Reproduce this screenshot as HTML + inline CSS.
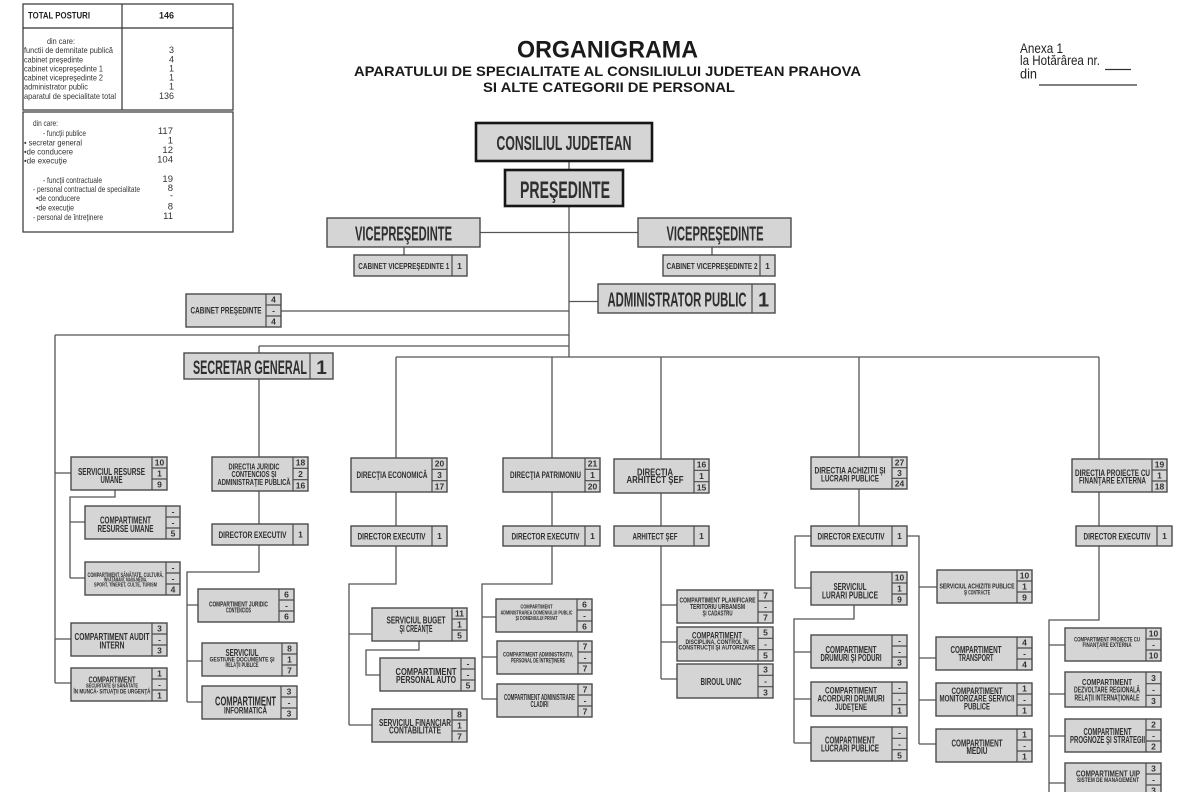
<!DOCTYPE html>
<html>
<head>
<meta charset="utf-8">
<style>
html,body{margin:0;padding:0;background:#fff;}
svg{display:block;}
.b{font-family:"Liberation Sans",Arial,sans-serif;font-weight:bold;fill:#2f2f2f;text-anchor:middle;}
.r{font-family:"Liberation Sans",Arial,sans-serif;fill:#333;}
.bx{fill:#d5d5d5;stroke:#4a4a4a;stroke-width:1.4;}
.bt{fill:#d5d5d5;stroke:#161616;stroke-width:2.6;}
.dv{stroke:#4a4a4a;stroke-width:1.2;}
.c{fill:none;stroke:#555;stroke-width:1.3;}
.v{font-family:"Liberation Sans",Arial,sans-serif;font-weight:bold;fill:#333;text-anchor:middle;font-size:8.5px;}
</style>
</head>
<body>
<svg width="1200" height="792" viewBox="0 0 1200 792" xmlns="http://www.w3.org/2000/svg">
<rect x="0" y="0" width="1200" height="792" fill="#fff"/>

<!-- Tables -->
<rect x="23" y="4" width="210" height="106" fill="#fff" stroke="#333" stroke-width="1.2"/>
<line x1="23" y1="28" x2="233" y2="28" stroke="#333" stroke-width="1.2"/>
<line x1="122" y1="4" x2="122" y2="110" stroke="#333" stroke-width="1.2"/>
<text class="r" x="28" y="18.5" font-size="9" font-weight="bold" textLength="62" lengthAdjust="spacingAndGlyphs" style="fill:#222">TOTAL POSTURI</text>
<text class="r" x="166.5" y="18.5" font-size="9" font-weight="bold" text-anchor="middle" style="fill:#222">146</text>
<g class="r" font-size="8.5">
<text x="47" y="44" textLength="28" lengthAdjust="spacingAndGlyphs">din care:</text>
<text x="24" y="53" textLength="89" lengthAdjust="spacingAndGlyphs">functii de demnitate publică</text>
<text x="24" y="62.5" textLength="59" lengthAdjust="spacingAndGlyphs">cabinet preşedinte</text>
<text x="24" y="71.5" textLength="79" lengthAdjust="spacingAndGlyphs">cabinet vicepreşedinte 1</text>
<text x="24" y="80.5" textLength="79" lengthAdjust="spacingAndGlyphs">cabinet vicepreşedinte 2</text>
<text x="24" y="89.5" textLength="64" lengthAdjust="spacingAndGlyphs">administrator public</text>
<text x="24" y="99" textLength="92" lengthAdjust="spacingAndGlyphs">aparatul de specialitate total</text>
</g>
<g class="r" font-size="9" text-anchor="end">
<text x="174" y="53">3</text>
<text x="174" y="62.5">4</text>
<text x="174" y="71.5">1</text>
<text x="174" y="80.5">1</text>
<text x="174" y="89.5">1</text>
<text x="174" y="99">136</text>
</g>

<rect x="23" y="112" width="210" height="120" fill="#fff" stroke="#333" stroke-width="1.2"/>
<g class="r" font-size="8.5">
<text x="33" y="126" textLength="25" lengthAdjust="spacingAndGlyphs">din care:</text>
<text x="43" y="136" textLength="43" lengthAdjust="spacingAndGlyphs">- funcţii publice</text>
<text x="24" y="145.5" textLength="58" lengthAdjust="spacingAndGlyphs">• secretar general</text>
<text x="24" y="154.5" textLength="49" lengthAdjust="spacingAndGlyphs">•de conducere</text>
<text x="24" y="163.5" textLength="43" lengthAdjust="spacingAndGlyphs">•de execuţie</text>
<text x="43" y="183" textLength="59" lengthAdjust="spacingAndGlyphs">- funcţii contractuale</text>
<text x="33" y="192" textLength="107" lengthAdjust="spacingAndGlyphs">- personal contractual de specialitate</text>
<text x="36" y="201" textLength="44" lengthAdjust="spacingAndGlyphs">•de conducere</text>
<text x="36" y="210.5" textLength="38" lengthAdjust="spacingAndGlyphs">•de execuţie</text>
<text x="33" y="220" textLength="70" lengthAdjust="spacingAndGlyphs">- personal de întreţinere</text>
</g>
<g class="r" font-size="9.5" text-anchor="end">
<text x="173" y="134">117</text>
<text x="173" y="143.5">1</text>
<text x="173" y="153">12</text>
<text x="173" y="162.5">104</text>
<text x="173" y="182">19</text>
<text x="173" y="191">8</text>
<text x="173" y="198.5">-</text>
<text x="173" y="209.5">8</text>
<text x="173" y="219">11</text>
</g>

<!-- Title -->
<text class="b" x="607.5" y="57.5" font-size="24" textLength="181" lengthAdjust="spacingAndGlyphs" style="fill:#1a1a1a">ORGANIGRAMA</text>
<text class="b" x="607.5" y="76" font-size="14" textLength="507" lengthAdjust="spacingAndGlyphs" style="fill:#1a1a1a">APARATULUI DE SPECIALITATE  AL CONSILIULUI JUDETEAN PRAHOVA</text>
<text class="b" x="609" y="92" font-size="14" textLength="252" lengthAdjust="spacingAndGlyphs" style="fill:#1a1a1a">SI ALTE CATEGORII DE  PERSONAL</text>

<!-- Anexa -->
<g class="r" font-size="14" style="fill:#222">
<text x="1020" y="53" textLength="43" lengthAdjust="spacingAndGlyphs">Anexa 1</text>
<text x="1020" y="65" textLength="80" lengthAdjust="spacingAndGlyphs">la Hotărârea nr.</text>
<text x="1020" y="78.5" textLength="17" lengthAdjust="spacingAndGlyphs">din</text>
</g>
<line x1="1105" y1="69.5" x2="1131" y2="69.5" stroke="#333" stroke-width="1.2"/>
<line x1="1039" y1="85" x2="1137" y2="85" stroke="#333" stroke-width="1.2"/>

<!-- Connectors -->
<path class="c" d="M569 161V170 M569 206V357 M480 232.5H638 M404 247V255 M712 247V255 M569 301.5H598 M281 311H569 M55 335H569 M55 335V683 M55 473H71 M55 639H71 M55 683H71 M259 346H569 M259 346V353 M259 379V457 M259 491V524 M259 545V572H187V702 M187 605H198 M187 661H202 M187 702H202 M115 490V497H70V578 M70 522H85 M70 578H85 M396 357H1099 M396 357V458 M552 357V458 M661 357V459 M859 357V457 M1099 357V459 M396 492V526 M396 546V584H349V725 M349 634H372 M349 725H372 M419 641V650H366V675H380 M552 492V526 M552 546V584H482V699 M482 617H496 M482 657H497 M482 699H497 M661 493V526 M661 546V679 M661 605H677 M661 642H677 M661 679H677 M859 489V526 M811 536H795V588H811 M907 536H919V744 M919 587H937 M919 658H936 M919 700H936 M919 744H936 M854 605V619H794V743 M794 652H811 M794 699H811 M794 743H811 M1099 492V526 M1099 546V620H1049V792 M1049 645H1065 M1049 694H1065 M1049 736H1065 M1049 783H1065"/>

<!-- Top boxes -->
<rect class="bt" x="476" y="123" width="176" height="38"/>
<text class="b" x="564" y="150" font-size="20" textLength="135" lengthAdjust="spacingAndGlyphs">CONSILIUL JUDETEAN</text>
<rect class="bt" x="505" y="170" width="118" height="36"/>
<text class="b" x="565" y="198" font-size="24" textLength="90" lengthAdjust="spacingAndGlyphs">PREŞEDINTE</text>

<rect class="bx" x="327" y="218" width="153" height="29"/>
<text class="b" x="403.5" y="240.5" font-size="20" textLength="97" lengthAdjust="spacingAndGlyphs">VICEPREŞEDINTE</text>
<rect class="bx" x="638" y="218" width="153" height="29"/>
<text class="b" x="715" y="240.5" font-size="20" textLength="97" lengthAdjust="spacingAndGlyphs">VICEPREŞEDINTE</text>

<rect class="bx" x="354" y="255" width="113" height="21"/>
<line class="dv" x1="452" y1="255" x2="452" y2="276"/>
<text class="b" x="403.8" y="269" font-size="8.5" textLength="91" lengthAdjust="spacingAndGlyphs">CABINET VICEPREŞEDINTE 1</text>
<text class="v" x="459.5" y="269">1</text>

<rect class="bx" x="663" y="255" width="112" height="21"/>
<line class="dv" x1="760" y1="255" x2="760" y2="276"/>
<text class="b" x="712" y="269" font-size="8.5" textLength="91" lengthAdjust="spacingAndGlyphs">CABINET VICEPREŞEDINTE 2</text>
<text class="v" x="767.5" y="269">1</text>

<rect class="bx" x="598" y="284" width="177" height="29"/>
<line class="dv" x1="752" y1="284" x2="752" y2="313"/>
<text class="b" x="677" y="306.5" font-size="20" textLength="139" lengthAdjust="spacingAndGlyphs">ADMINISTRATOR PUBLIC</text>
<text class="b" x="763.5" y="306.5" font-size="20">1</text>

<rect class="bx" x="186" y="294" width="95" height="33"/>
<path class="dv" d="M266 294V327 M266 305H281 M266 316H281"/>
<text class="b" x="226" y="313.5" font-size="9" textLength="71" lengthAdjust="spacingAndGlyphs">CABINET PREŞEDINTE</text>
<text class="v" x="273.5" y="302.5">4</text><text class="v" x="273.5" y="313.5">-</text><text class="v" x="273.5" y="324.5">4</text>

<rect class="bx" x="184" y="353" width="149" height="26"/>
<line class="dv" x1="310" y1="353" x2="310" y2="379"/>
<text class="b" x="250" y="374" font-size="19" textLength="114" lengthAdjust="spacingAndGlyphs">SECRETAR GENERAL</text>
<text class="b" x="321.5" y="374" font-size="19">1</text>

<!-- Left column -->
<rect class="bx" x="71" y="457" width="96" height="33"/>
<path class="dv" d="M152 457V490 M152 468H167 M152 479H167"/>
<text class="b" x="111.5" y="475" font-size="10" textLength="67" lengthAdjust="spacingAndGlyphs">SERVICIUL RESURSE</text>
<text class="b" x="111.5" y="483" font-size="10" textLength="22" lengthAdjust="spacingAndGlyphs">UMANE</text>
<text class="v" x="159.5" y="465.5">10</text><text class="v" x="159.5" y="476.5">1</text><text class="v" x="159.5" y="487.5">9</text>

<rect class="bx" x="85" y="506" width="95" height="33"/>
<path class="dv" d="M166 506V539 M166 517H180 M166 528H180"/>
<text class="b" x="125.5" y="523.5" font-size="10" textLength="51" lengthAdjust="spacingAndGlyphs">COMPARTIMENT</text>
<text class="b" x="125.5" y="532" font-size="10" textLength="56" lengthAdjust="spacingAndGlyphs">RESURSE UMANE</text>
<text class="v" x="173" y="514.5">-</text><text class="v" x="173" y="525.5">-</text><text class="v" x="173" y="536.5">5</text>

<rect class="bx" x="85" y="562" width="95" height="33"/>
<path class="dv" d="M166 562V595 M166 573H180 M166 584H180"/>
<text class="b" x="125.5" y="577" font-size="6.5" textLength="76" lengthAdjust="spacingAndGlyphs">COMPARTIMENT SĂNĂTATE, CULTURĂ,</text>
<text class="b" x="125.5" y="581.5" font-size="5" textLength="43" lengthAdjust="spacingAndGlyphs">ÎNVĂŢĂMÂNT, MASS-MEDIA,</text>
<text class="b" x="125.5" y="586.5" font-size="5" textLength="63" lengthAdjust="spacingAndGlyphs">SPORT, TINERET, CULTE, TURISM</text>
<text class="v" x="173" y="570.5">-</text><text class="v" x="173" y="581.5">-</text><text class="v" x="173" y="592.5">4</text>

<rect class="bx" x="71" y="623" width="96" height="33"/>
<path class="dv" d="M152 623V656 M152 634H167 M152 645H167"/>
<text class="b" x="112" y="640" font-size="10" textLength="75" lengthAdjust="spacingAndGlyphs">COMPARTIMENT  AUDIT</text>
<text class="b" x="112" y="648.5" font-size="10" textLength="25" lengthAdjust="spacingAndGlyphs">INTERN</text>
<text class="v" x="159.5" y="631.5">3</text><text class="v" x="159.5" y="642.5">-</text><text class="v" x="159.5" y="653.5">3</text>

<rect class="bx" x="71" y="668" width="96" height="33"/>
<path class="dv" d="M152 668V701 M152 679H167 M152 690H167"/>
<text class="b" x="112" y="682.5" font-size="8" textLength="47" lengthAdjust="spacingAndGlyphs">COMPARTIMENT</text>
<text class="b" x="112" y="687.5" font-size="5.5" textLength="52" lengthAdjust="spacingAndGlyphs">SECURITATE ŞI SĂNĂTATE</text>
<text class="b" x="112" y="693.5" font-size="6.5" textLength="77" lengthAdjust="spacingAndGlyphs">ÎN MUNCĂ- SITUAŢII DE URGENŢĂ</text>
<text class="v" x="159.5" y="676.5">1</text><text class="v" x="159.5" y="687.5">-</text><text class="v" x="159.5" y="698.5">1</text>

<!-- Juridic -->
<rect class="bx" x="212" y="457" width="96" height="34"/>
<path class="dv" d="M293 457V491 M293 468.3H308 M293 479.7H308"/>
<text class="b" x="254" y="469.5" font-size="8" textLength="51" lengthAdjust="spacingAndGlyphs">DIRECTIA JURIDIC</text>
<text class="b" x="254" y="477" font-size="8" textLength="45" lengthAdjust="spacingAndGlyphs">CONTENCIOS ŞI</text>
<text class="b" x="254" y="485" font-size="8" textLength="73" lengthAdjust="spacingAndGlyphs">ADMINISTRAŢIE  PUBLICĂ</text>
<text class="v" x="300.5" y="465.7">18</text><text class="v" x="300.5" y="477">2</text><text class="v" x="300.5" y="488.3">16</text>

<rect class="bx" x="212" y="524" width="96" height="21"/>
<line class="dv" x1="293" y1="524" x2="293" y2="545"/>
<text class="b" x="252.5" y="538" font-size="9" textLength="68" lengthAdjust="spacingAndGlyphs">DIRECTOR EXECUTIV</text>
<text class="v" x="300.5" y="537.5">1</text>

<rect class="bx" x="198" y="589" width="96" height="33"/>
<path class="dv" d="M279 589V622 M279 600H294 M279 611H294"/>
<text class="b" x="238.5" y="606.5" font-size="7" textLength="59" lengthAdjust="spacingAndGlyphs">COMPARTIMENT JURIDIC</text>
<text class="b" x="238.5" y="612.5" font-size="7" textLength="25" lengthAdjust="spacingAndGlyphs">CONTENCIOS</text>
<text class="v" x="286.5" y="597.5">6</text><text class="v" x="286.5" y="608.5">-</text><text class="v" x="286.5" y="619.5">6</text>

<rect class="bx" x="202" y="643" width="95" height="33"/>
<path class="dv" d="M282 643V676 M282 654H297 M282 665H297"/>
<text class="b" x="242" y="656" font-size="10" textLength="33" lengthAdjust="spacingAndGlyphs">SERVICIUL</text>
<text class="b" x="242" y="661.5" font-size="6.5" textLength="65" lengthAdjust="spacingAndGlyphs">GESTIUNE DOCUMENTE ŞI</text>
<text class="b" x="242" y="667" font-size="6.5" textLength="33" lengthAdjust="spacingAndGlyphs">RELAŢII PUBLICE</text>
<text class="v" x="289.5" y="651.5">8</text><text class="v" x="289.5" y="662.5">1</text><text class="v" x="289.5" y="673.5">7</text>

<rect class="bx" x="202" y="686" width="95" height="33"/>
<path class="dv" d="M281 686V719 M281 697H297 M281 708H297"/>
<text class="b" x="245.5" y="705.5" font-size="13" textLength="61" lengthAdjust="spacingAndGlyphs">COMPARTIMENT</text>
<text class="b" x="245.5" y="713.5" font-size="9" textLength="43" lengthAdjust="spacingAndGlyphs">INFORMATICĂ</text>
<text class="v" x="289" y="694.5">3</text><text class="v" x="289" y="705.5">-</text><text class="v" x="289" y="716.5">3</text>

<!-- Economica -->
<rect class="bx" x="351" y="458" width="96" height="34"/>
<path class="dv" d="M432 458V492 M432 469.3H447 M432 480.7H447"/>
<text class="b" x="392" y="478" font-size="9" textLength="71" lengthAdjust="spacingAndGlyphs">DIRECŢIA ECONOMICĂ</text>
<text class="v" x="439.5" y="466.7">20</text><text class="v" x="439.5" y="478">3</text><text class="v" x="439.5" y="489.3">17</text>

<rect class="bx" x="351" y="526" width="96" height="20"/>
<line class="dv" x1="432" y1="526" x2="432" y2="546"/>
<text class="b" x="391.5" y="539.5" font-size="9" textLength="68" lengthAdjust="spacingAndGlyphs">DIRECTOR EXECUTIV</text>
<text class="v" x="439.5" y="539">1</text>

<rect class="bx" x="372" y="608" width="95" height="33"/>
<path class="dv" d="M452 608V641 M452 619H467 M452 630H467"/>
<text class="b" x="416" y="623.5" font-size="10" textLength="59" lengthAdjust="spacingAndGlyphs">SERVICIUL BUGET</text>
<text class="b" x="416" y="632" font-size="10" textLength="33" lengthAdjust="spacingAndGlyphs">ŞI CREANŢE</text>
<text class="v" x="459.5" y="616.5">11</text><text class="v" x="459.5" y="627.5">1</text><text class="v" x="459.5" y="638.5">5</text>

<rect class="bx" x="380" y="658" width="95" height="33"/>
<path class="dv" d="M461 658V691 M461 669H475 M461 680H475"/>
<text class="b" x="426" y="675" font-size="10" textLength="61" lengthAdjust="spacingAndGlyphs">COMPARTIMENT</text>
<text class="b" x="426" y="683" font-size="10" textLength="60" lengthAdjust="spacingAndGlyphs">PERSONAL AUTO</text>
<text class="v" x="468" y="666.5">-</text><text class="v" x="468" y="677.5">-</text><text class="v" x="468" y="688.5">5</text>

<rect class="bx" x="372" y="709" width="95" height="33"/>
<path class="dv" d="M452 709V742 M452 720H467 M452 731H467"/>
<text class="b" x="415" y="726" font-size="10" textLength="72" lengthAdjust="spacingAndGlyphs">SERVICIUL  FINANCIAR</text>
<text class="b" x="415" y="733.5" font-size="10" textLength="52" lengthAdjust="spacingAndGlyphs">CONTABILITATE</text>
<text class="v" x="459.5" y="717.5">8</text><text class="v" x="459.5" y="728.5">1</text><text class="v" x="459.5" y="739.5">7</text>

<!-- Patrimoniu -->
<rect class="bx" x="503" y="458" width="97" height="34"/>
<path class="dv" d="M585 458V492 M585 469.3H600 M585 480.7H600"/>
<text class="b" x="545.5" y="478" font-size="9" textLength="71" lengthAdjust="spacingAndGlyphs">DIRECŢIA PATRIMONIU</text>
<text class="v" x="592.5" y="466.7">21</text><text class="v" x="592.5" y="478">1</text><text class="v" x="592.5" y="489.3">20</text>

<rect class="bx" x="503" y="526" width="97" height="20"/>
<line class="dv" x1="585" y1="526" x2="585" y2="546"/>
<text class="b" x="545.5" y="539.5" font-size="9" textLength="68" lengthAdjust="spacingAndGlyphs">DIRECTOR EXECUTIV</text>
<text class="v" x="592.5" y="539">1</text>

<rect class="bx" x="496" y="599" width="96" height="33"/>
<path class="dv" d="M577 599V632 M577 610H592 M577 621H592"/>
<text class="b" x="536.5" y="608.5" font-size="5.5" textLength="32" lengthAdjust="spacingAndGlyphs">COMPARTIMENT</text>
<text class="b" x="536.5" y="614.5" font-size="5.5" textLength="72" lengthAdjust="spacingAndGlyphs">ADMINISTRAREA DOMENIULUI PUBLIC</text>
<text class="b" x="536.5" y="620" font-size="5.5" textLength="42" lengthAdjust="spacingAndGlyphs">ŞI DOMENIULUI PRIVAT</text>
<text class="v" x="584.5" y="607.5">6</text><text class="v" x="584.5" y="618.5">-</text><text class="v" x="584.5" y="629.5">6</text>

<rect class="bx" x="497" y="641" width="95" height="33"/>
<path class="dv" d="M578 641V674 M578 652H592 M578 663H592"/>
<text class="b" x="538" y="656.5" font-size="6.5" textLength="70" lengthAdjust="spacingAndGlyphs">COMPARTIMENT ADMINISTRATIV,</text>
<text class="b" x="538" y="662.5" font-size="6.5" textLength="54" lengthAdjust="spacingAndGlyphs">PERSONAL DE ÎNTREŢINERE</text>
<text class="v" x="585" y="649.5">7</text><text class="v" x="585" y="660.5">-</text><text class="v" x="585" y="671.5">7</text>

<rect class="bx" x="497" y="684" width="95" height="33"/>
<path class="dv" d="M578 684V717 M578 695H592 M578 706H592"/>
<text class="b" x="539.5" y="700" font-size="8" textLength="71" lengthAdjust="spacingAndGlyphs">COMPARTIMENT ADMINISTRARE</text>
<text class="b" x="539.5" y="707" font-size="8" textLength="18" lengthAdjust="spacingAndGlyphs">CLADIRI</text>
<text class="v" x="585" y="692.5">7</text><text class="v" x="585" y="703.5">-</text><text class="v" x="585" y="714.5">7</text>

<!-- Arhitect -->
<rect class="bx" x="614" y="459" width="95" height="34"/>
<path class="dv" d="M694 459V493 M694 470.3H709 M694 481.7H709"/>
<text class="b" x="655" y="475.5" font-size="10" textLength="36" lengthAdjust="spacingAndGlyphs">DIRECTIA</text>
<text class="b" x="655" y="483" font-size="10" textLength="57" lengthAdjust="spacingAndGlyphs">ARHITECT ŞEF</text>
<text class="v" x="701.5" y="467.7">16</text><text class="v" x="701.5" y="479">1</text><text class="v" x="701.5" y="490.3">15</text>

<rect class="bx" x="614" y="526" width="95" height="20"/>
<line class="dv" x1="694" y1="526" x2="694" y2="546"/>
<text class="b" x="655" y="539.5" font-size="9" textLength="45" lengthAdjust="spacingAndGlyphs">ARHITECT ŞEF</text>
<text class="v" x="701.5" y="539">1</text>

<rect class="bx" x="677" y="590" width="96" height="33"/>
<path class="dv" d="M758 590V623 M758 601H773 M758 612H773"/>
<text class="b" x="717.5" y="602.5" font-size="7" textLength="76" lengthAdjust="spacingAndGlyphs">COMPARTIMENT PLANIFICARE</text>
<text class="b" x="717.5" y="609" font-size="7" textLength="55" lengthAdjust="spacingAndGlyphs">TERITORIU URBANISM</text>
<text class="b" x="717.5" y="615.5" font-size="7" textLength="30" lengthAdjust="spacingAndGlyphs">ŞI CADASTRU</text>
<text class="v" x="765.5" y="598.5">7</text><text class="v" x="765.5" y="609.5">-</text><text class="v" x="765.5" y="620.5">7</text>

<rect class="bx" x="677" y="627" width="96" height="34"/>
<path class="dv" d="M758 627V661 M758 638.3H773 M758 649.7H773"/>
<text class="b" x="717" y="638.5" font-size="9" textLength="50" lengthAdjust="spacingAndGlyphs">COMPARTIMENT</text>
<text class="b" x="717" y="644" font-size="6" textLength="63" lengthAdjust="spacingAndGlyphs">DISCIPLINA, CONTROL ÎN</text>
<text class="b" x="717" y="649.5" font-size="6.5" textLength="77" lengthAdjust="spacingAndGlyphs">CONSTRUCŢII ŞI AUTORIZARE</text>
<text class="v" x="765.5" y="635.7">5</text><text class="v" x="765.5" y="647">-</text><text class="v" x="765.5" y="658.3">5</text>

<rect class="bx" x="677" y="664" width="96" height="34"/>
<path class="dv" d="M758 664V698 M758 675.3H773 M758 686.7H773"/>
<text class="b" x="721" y="685" font-size="10" textLength="41" lengthAdjust="spacingAndGlyphs">BIROUL UNIC</text>
<text class="v" x="765.5" y="672.7">3</text><text class="v" x="765.5" y="684">-</text><text class="v" x="765.5" y="695.3">3</text>

<!-- Achizitii -->
<rect class="bx" x="811" y="457" width="96" height="32"/>
<path class="dv" d="M892 457V489 M892 467.7H907 M892 478.3H907"/>
<text class="b" x="850" y="473.5" font-size="9.5" textLength="71" lengthAdjust="spacingAndGlyphs">DIRECTIA  ACHIZITII ŞI</text>
<text class="b" x="850" y="481.5" font-size="9.5" textLength="58" lengthAdjust="spacingAndGlyphs">LUCRARI PUBLICE</text>
<text class="v" x="899.5" y="465.3">27</text><text class="v" x="899.5" y="476">3</text><text class="v" x="899.5" y="486.7">24</text>

<rect class="bx" x="811" y="526" width="96" height="20"/>
<line class="dv" x1="892" y1="526" x2="892" y2="546"/>
<text class="b" x="851" y="539.5" font-size="9" textLength="67" lengthAdjust="spacingAndGlyphs">DIRECTOR EXECUTIV</text>
<text class="v" x="899.5" y="539">1</text>

<rect class="bx" x="811" y="572" width="96" height="33"/>
<path class="dv" d="M892 572V605 M892 583H907 M892 594H907"/>
<text class="b" x="850" y="590" font-size="10" textLength="33" lengthAdjust="spacingAndGlyphs">SERVICIUL</text>
<text class="b" x="850" y="598.5" font-size="10" textLength="56" lengthAdjust="spacingAndGlyphs">LURARI PUBLICE</text>
<text class="v" x="899.5" y="580.5">10</text><text class="v" x="899.5" y="591.5">1</text><text class="v" x="899.5" y="602.5">9</text>

<rect class="bx" x="811" y="635" width="96" height="33"/>
<path class="dv" d="M892 635V668 M892 646H907 M892 657H907"/>
<text class="b" x="851" y="653" font-size="10" textLength="51" lengthAdjust="spacingAndGlyphs">COMPARTIMENT</text>
<text class="b" x="851" y="661" font-size="10" textLength="61" lengthAdjust="spacingAndGlyphs">DRUMURI ŞI PODURI</text>
<text class="v" x="899.5" y="643.5">-</text><text class="v" x="899.5" y="654.5">-</text><text class="v" x="899.5" y="665.5">3</text>

<rect class="bx" x="811" y="682" width="96" height="34"/>
<path class="dv" d="M892 682V716 M892 693.3H907 M892 704.7H907"/>
<text class="b" x="851" y="693.5" font-size="9" textLength="52" lengthAdjust="spacingAndGlyphs">COMPARTIMENT</text>
<text class="b" x="851" y="701.5" font-size="9" textLength="67" lengthAdjust="spacingAndGlyphs">ACORDURI DRUMURI</text>
<text class="b" x="851" y="710" font-size="9" textLength="32" lengthAdjust="spacingAndGlyphs">JUDEŢENE</text>
<text class="v" x="899.5" y="690.7">-</text><text class="v" x="899.5" y="702">-</text><text class="v" x="899.5" y="713.3">1</text>

<rect class="bx" x="811" y="727" width="96" height="34"/>
<path class="dv" d="M892 727V761 M892 738.3H907 M892 749.7H907"/>
<text class="b" x="850" y="743.5" font-size="10" textLength="50" lengthAdjust="spacingAndGlyphs">COMPARTIMENT</text>
<text class="b" x="850" y="751.5" font-size="10" textLength="58" lengthAdjust="spacingAndGlyphs">LUCRARI PUBLICE</text>
<text class="v" x="899.5" y="735.7">-</text><text class="v" x="899.5" y="747">-</text><text class="v" x="899.5" y="758.3">5</text>

<rect class="bx" x="937" y="570" width="95" height="33"/>
<path class="dv" d="M1017 570V603 M1017 581H1032 M1017 592H1032"/>
<text class="b" x="977" y="588.5" font-size="7" textLength="75" lengthAdjust="spacingAndGlyphs">SERVICIUL ACHIZITII PUBLICE</text>
<text class="b" x="977" y="594.5" font-size="6" textLength="26" lengthAdjust="spacingAndGlyphs">ŞI CONTRACTE</text>
<text class="v" x="1024.5" y="578.5">10</text><text class="v" x="1024.5" y="589.5">1</text><text class="v" x="1024.5" y="600.5">9</text>

<rect class="bx" x="936" y="637" width="96" height="33"/>
<path class="dv" d="M1017 637V670 M1017 648H1032 M1017 659H1032"/>
<text class="b" x="976" y="653" font-size="10" textLength="51" lengthAdjust="spacingAndGlyphs">COMPARTIMENT</text>
<text class="b" x="976" y="661" font-size="10" textLength="35" lengthAdjust="spacingAndGlyphs">TRANSPORT</text>
<text class="v" x="1024.5" y="645.5">4</text><text class="v" x="1024.5" y="656.5">-</text><text class="v" x="1024.5" y="667.5">4</text>

<rect class="bx" x="936" y="683" width="96" height="33"/>
<path class="dv" d="M1017 683V716 M1017 694H1032 M1017 705H1032"/>
<text class="b" x="977" y="694" font-size="9" textLength="51" lengthAdjust="spacingAndGlyphs">COMPARTIMENT</text>
<text class="b" x="977" y="701.5" font-size="9" textLength="75" lengthAdjust="spacingAndGlyphs">MONITORIZARE SERVICII</text>
<text class="b" x="977" y="709.5" font-size="9" textLength="26" lengthAdjust="spacingAndGlyphs">PUBLICE</text>
<text class="v" x="1024.5" y="691.5">1</text><text class="v" x="1024.5" y="702.5">-</text><text class="v" x="1024.5" y="713.5">1</text>

<rect class="bx" x="936" y="729" width="96" height="33"/>
<path class="dv" d="M1017 729V762 M1017 740H1032 M1017 751H1032"/>
<text class="b" x="977" y="746.5" font-size="10" textLength="51" lengthAdjust="spacingAndGlyphs">COMPARTIMENT</text>
<text class="b" x="977" y="754" font-size="10" textLength="21" lengthAdjust="spacingAndGlyphs">MEDIU</text>
<text class="v" x="1024.5" y="737.5">1</text><text class="v" x="1024.5" y="748.5">-</text><text class="v" x="1024.5" y="759.5">1</text>

<!-- Proiecte -->
<rect class="bx" x="1072" y="459" width="95" height="33"/>
<path class="dv" d="M1152 459V492 M1152 470H1167 M1152 481H1167"/>
<text class="b" x="1112.5" y="476" font-size="9.5" textLength="75" lengthAdjust="spacingAndGlyphs">DIRECŢIA PROIECTE CU</text>
<text class="b" x="1112.5" y="483.5" font-size="9.5" textLength="67" lengthAdjust="spacingAndGlyphs">FINANŢARE EXTERNA</text>
<text class="v" x="1159.5" y="467.5">19</text><text class="v" x="1159.5" y="478.5">1</text><text class="v" x="1159.5" y="489.5">18</text>

<rect class="bx" x="1076" y="526" width="96" height="20"/>
<line class="dv" x1="1157" y1="526" x2="1157" y2="546"/>
<text class="b" x="1117" y="539.5" font-size="9" textLength="67" lengthAdjust="spacingAndGlyphs">DIRECTOR EXECUTIV</text>
<text class="v" x="1164.5" y="539">1</text>

<rect class="bx" x="1065" y="628" width="96" height="33"/>
<path class="dv" d="M1146 628V661 M1146 639H1161 M1146 650H1161"/>
<text class="b" x="1107" y="641.5" font-size="6" textLength="66" lengthAdjust="spacingAndGlyphs">COMPARTIMENT PROIECTE CU</text>
<text class="b" x="1107" y="647" font-size="6" textLength="49" lengthAdjust="spacingAndGlyphs">FINANŢARE EXTERNA</text>
<text class="v" x="1153.5" y="636.5">10</text><text class="v" x="1153.5" y="647.5">-</text><text class="v" x="1153.5" y="658.5">10</text>

<rect class="bx" x="1065" y="672" width="96" height="35"/>
<path class="dv" d="M1146 672V707 M1146 683.7H1161 M1146 695.3H1161"/>
<text class="b" x="1107" y="685" font-size="8.5" textLength="50" lengthAdjust="spacingAndGlyphs">COMPARTIMENT</text>
<text class="b" x="1107" y="692.5" font-size="8.5" textLength="66" lengthAdjust="spacingAndGlyphs">DEZVOLTARE REGIONALĂ</text>
<text class="b" x="1107" y="700.5" font-size="8.5" textLength="65" lengthAdjust="spacingAndGlyphs">RELAŢII INTERNAŢIONALE</text>
<text class="v" x="1153.5" y="680.8">3</text><text class="v" x="1153.5" y="692.5">-</text><text class="v" x="1153.5" y="704.2">3</text>

<rect class="bx" x="1065" y="719" width="96" height="33"/>
<path class="dv" d="M1146 719V752 M1146 730H1161 M1146 741H1161"/>
<text class="b" x="1107.5" y="735" font-size="10" textLength="48" lengthAdjust="spacingAndGlyphs">COMPARTIMENT</text>
<text class="b" x="1107.5" y="743" font-size="10" textLength="75" lengthAdjust="spacingAndGlyphs">PROGNOZE ŞI STRATEGII</text>
<text class="v" x="1153.5" y="727.5">2</text><text class="v" x="1153.5" y="738.5">-</text><text class="v" x="1153.5" y="749.5">2</text>

<rect class="bx" x="1065" y="763" width="96" height="33"/>
<path class="dv" d="M1146 763V796 M1146 774H1161 M1146 785H1161"/>
<text class="b" x="1108" y="776.5" font-size="8.5" textLength="64" lengthAdjust="spacingAndGlyphs">COMPARTIMENT UIP</text>
<text class="b" x="1108" y="782" font-size="6" textLength="62" lengthAdjust="spacingAndGlyphs">SISTEM DE MANAGEMENT</text>
<text class="v" x="1153.5" y="771.5">3</text><text class="v" x="1153.5" y="782.5">-</text><text class="v" x="1153.5" y="793.5">3</text>

</svg>
</body>
</html>
